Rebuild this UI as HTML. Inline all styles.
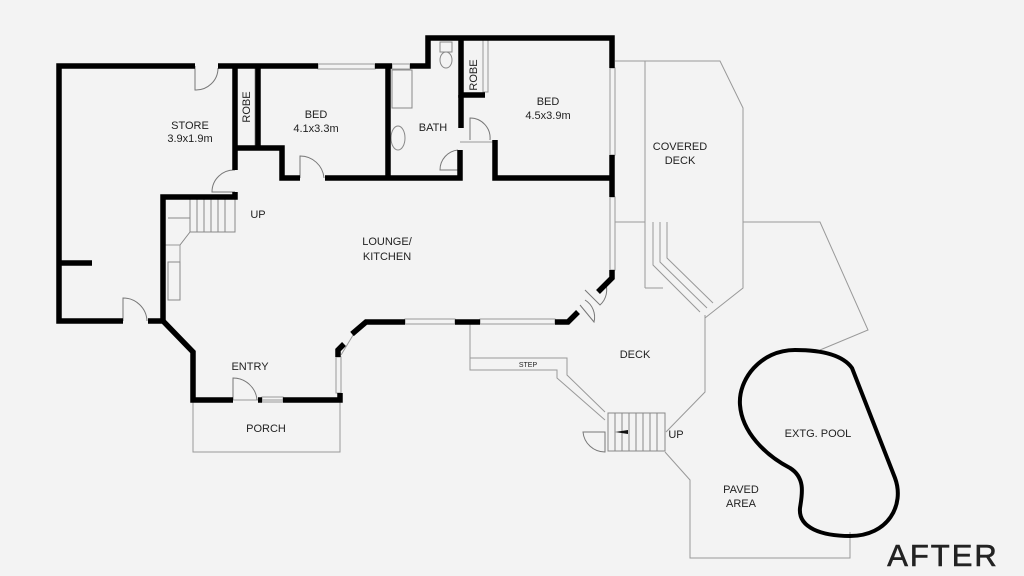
<!DOCTYPE html>
<html><head><style>
html,body{margin:0;padding:0;background:#f3f3f3;}
svg{display:block}
text{font-family:"Liberation Sans",sans-serif;fill:#222;}
</style></head><body>
<svg width="1024" height="576" viewBox="0 0 1024 576" xmlns="http://www.w3.org/2000/svg">
<rect width="1024" height="576" fill="#f3f3f3"/>
<g fill="none" stroke="#999" stroke-width="1">
 <polyline points="615,61 720,61 743,108 743,288 705,318"/>
 <line x1="645" y1="61" x2="645" y2="288"/>
 <line x1="615" y1="222" x2="645" y2="222"/>
 <polyline points="645,288 663,288"/>
 <polyline points="653,222 653,265 700,312"/>
 <polyline points="660,222 660,262 707,308"/>
 <polyline points="667,222 667,258 713,303"/>
 <polyline points="743,222 820,222 868,330 820,350"/>
 <polyline points="705,315 705,392 666,432"/>
 <polyline points="470,322 470,370 557,370 557,378 605,420"/>
 <polyline points="470,358 567,358 567,375 605,412"/>
 <polyline points="665,452 690,480 690,558 850,558 850,532"/>
 <rect x="193" y="400" width="147" height="52"/>
 <polyline points="165,245 180,245 180,300"/>
 <line x1="235" y1="150" x2="282" y2="150"/>
 <line x1="460" y1="142" x2="495" y2="142"/>
</g>
<g fill="none" stroke="#888" stroke-width="1">
 <rect x="190" y="197" width="45" height="35"/>
 <line x1="197" y1="197" x2="197" y2="232"/><line x1="204" y1="197" x2="204" y2="232"/>
 <line x1="211" y1="197" x2="211" y2="232"/><line x1="218" y1="197" x2="218" y2="232"/>
 <line x1="225" y1="197" x2="225" y2="232"/>
 <polyline points="168,218 190,218"/><polyline points="190,232 180,245"/>
 <rect x="608" y="413" width="57" height="38"/>
 <line x1="615" y1="413" x2="615" y2="451"/><line x1="622" y1="413" x2="622" y2="451"/>
 <line x1="629" y1="413" x2="629" y2="451"/><line x1="636" y1="413" x2="636" y2="451"/>
 <line x1="643" y1="413" x2="643" y2="451"/><line x1="650" y1="413" x2="650" y2="451"/>
 <line x1="657" y1="413" x2="657" y2="451"/>
 <rect x="168" y="262" width="12" height="38"/>
 <rect x="392" y="70" width="20" height="38"/>
 <ellipse cx="398" cy="138" rx="7" ry="12"/>
 <rect x="440" y="42" width="12" height="10"/><ellipse cx="446" cy="60" rx="6" ry="8"/>
</g>
<polygon points="615,432 628,430 628,434" fill="#111"/>
<g fill="none" stroke="#777" stroke-width="1">
 <path d="M195,66 V90 A22,22 0 0 0 218,68"/>
 <path d="M123,321 V298 A24,24 0 0 1 147,321"/>
 <path d="M235,170 A22,22 0 0 0 212,192 H235"/>
 <path d="M300,178 V156 A24,24 0 0 1 324,178"/>
 <path d="M233,400 V378 A24,24 0 0 1 257,400"/>
 <path d="M458,150 A20,20 0 0 0 440,170 H458"/>
 <path d="M470,140 V118 A20,20 0 0 1 490,140"/>
 <path d="M583,432 A22,22 0 0 0 605,452 V432 Z"/>
 <path d="M585,290 L600,305 A20,20 0 0 0 605,282"/>
 <path d="M580,305 L594,322 A20,20 0 0 0 585,300"/>
</g>
<g stroke="#999" stroke-width="1" fill="none">
 <rect x="318" y="64" width="57" height="5"/><rect x="392" y="64" width="18" height="5"/>
 <rect x="610" y="68" width="5" height="87"/><rect x="610" y="197" width="5" height="73"/>
 <rect x="405" y="319" width="50" height="5"/><rect x="480" y="319" width="75" height="5"/>
 <rect x="262" y="397" width="21" height="5"/><rect x="336" y="357" width="5" height="36"/>
 <rect x="255" y="66" width="5" height="80"/><rect x="483" y="40" width="5" height="52"/>
 <line x1="341" y1="355" x2="358" y2="327"/>
</g>
<g fill="none" stroke="#000" stroke-width="5.5" stroke-linejoin="miter">
 <polyline points="195,66 59,66 59,321 123,321"/>
 <line x1="59" y1="263" x2="92" y2="263"/>
 <polyline points="148,321 163,321 193,352 193,400 233,400"/>
 <line x1="258" y1="400" x2="262" y2="400"/>
 <polyline points="283,400 340,400 340,393"/>
 <polyline points="338,357 338,350 344,344"/>
 <polyline points="352,334 366,322 405,322"/>
 <line x1="455" y1="322" x2="480" y2="322"/>
 <polyline points="555,322 568,322 578,312"/>
 <polyline points="598,292 612,278 612,270"/>
 <polyline points="612,197 612,155"/>
 <polyline points="410,66 428,66 428,38 612,38 612,68"/>
 <line x1="218" y1="66" x2="318" y2="66"/>
 <line x1="375" y1="66" x2="392" y2="66"/>
 <polyline points="163,321 163,197 235,197 235,192"/>
 <polyline points="235,170 235,66"/>
 <line x1="258" y1="66" x2="258" y2="148"/>
 <polyline points="235,148 282,148 282,178 300,178"/>
 <polyline points="325,178 460,178 460,150"/>
 <line x1="388" y1="66" x2="388" y2="178"/>
 <polyline points="461,38 461,95 485,95"/>
 <line x1="461" y1="95" x2="461" y2="128"/>
 <polyline points="495,140 495,178 612,178"/>
</g>
<path d="M795,350 C760,350 738,380 740,405 C742,432 765,455 790,468 C806,478 802,495 800,508 C798,528 822,536 850,536 C888,536 905,505 895,478 L852,368 C842,354 820,350 795,350 Z" fill="none" stroke="#000" stroke-width="4"/>
<g font-size="11" text-anchor="middle">
 <text x="190" y="129">STORE</text><text x="190" y="142">3.9x1.9m</text>
 <text x="316" y="118">BED</text><text x="316" y="132">4.1x3.3m</text>
 <text x="433" y="131">BATH</text>
 <text x="548" y="105">BED</text><text x="548" y="119">4.5x3.9m</text>
 <text x="680" y="150">COVERED</text><text x="680" y="164">DECK</text>
 <text x="387" y="245">LOUNGE/</text><text x="387" y="260">KITCHEN</text>
 <text x="250" y="370">ENTRY</text>
 <text x="266" y="432">PORCH</text>
 <text x="635" y="358">DECK</text>
 <text x="818" y="437">EXTG. POOL</text>
 <text x="741" y="493">PAVED</text><text x="741" y="507">AREA</text>
 <text x="258" y="218">UP</text>
 <text x="676" y="438">UP</text>
 <text x="528" y="367" font-size="7">STEP</text>
 <text transform="translate(250,107) rotate(-90)">ROBE</text>
 <text transform="translate(477,75) rotate(-90)">ROBE</text>
</g>
<text x="943" y="566" font-size="31" text-anchor="middle" style="fill:#222;stroke:#222;stroke-width:0.6;letter-spacing:2px">AFTER</text>
</svg>
</body></html>
